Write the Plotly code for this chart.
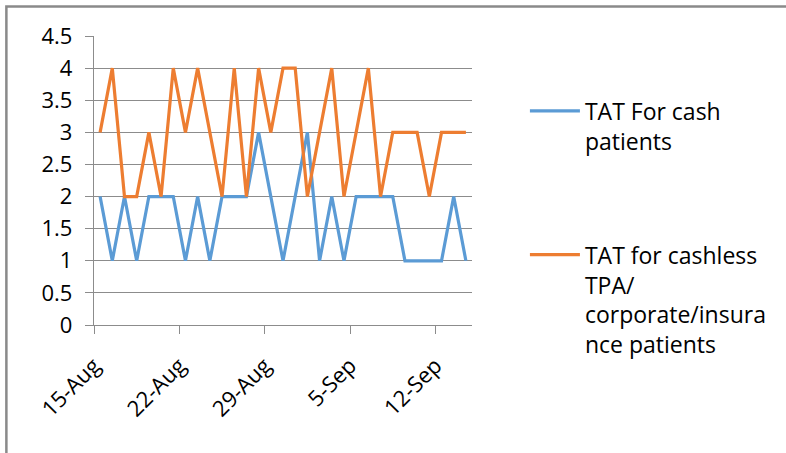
import pandas as pd
import plotly.graph_objects as go

# Daily turnaround time (TAT), 15 Aug - 14 Sep
dates = pd.date_range("2013-08-15", "2013-09-14", freq="D")
tat_cash = [2, 1, 2, 1, 2, 2, 2, 1, 2, 1, 2, 2, 2, 3, 2, 1,
            2, 3, 1, 2, 1, 2, 2, 2, 2, 1, 1, 1, 1, 2, 1]
tat_cashless = [3, 4, 2, 2, 3, 2, 4, 3, 4, 3, 2, 4, 2, 4, 3, 4,
                4, 2, 3, 4, 2, 3, 4, 2, 3, 3, 3, 2, 3, 3, 3]
series_names = [
    "TAT For cash<br>patients",
    "TAT for cashless<br>TPA/<br>corporate/insura<br>nce patients",
]
series_colors = ["#5B9BD5", "#ED7D31"]
y_ticks = [0, 0.5, 1, 1.5, 2, 2.5, 3, 3.5, 4, 4.5]
y_tick_text = ["0", "0.5", "1", "1.5", "2", "2.5", "3", "3.5", "4", "4.5"]

FONT = "Open Sans, Liberation Sans, sans-serif"
GRID = "#8c8c8c"
DAY_MS = 86400000

fig = go.Figure()
for i, (vals, name, color) in enumerate(zip([tat_cash, tat_cashless], series_names, series_colors)):
    fig.add_trace(go.Scatter(
        x=dates, y=vals, name=name, mode="lines",
        line=dict(color=color, width=3.2),
        xperiod=DAY_MS, xperiodalignment="middle",
        legendgroup=f"g{i}",
    ))

fig.update_layout(
    width=786, height=453,
    margin=dict(l=94, r=314, t=36, b=128),
    paper_bgcolor="white", plot_bgcolor="white",
    font=dict(family=FONT, size=22, color="#000000"),
    showlegend=True,
    legend=dict(
        x=1.14, y=0.815, xanchor="left", yanchor="top",
        font=dict(family=FONT, size=23, color="#000000"),
        tracegroupgap=81, valign="top",
        itemwidth=50, bgcolor="rgba(0,0,0,0)",
    ),
    shapes=[dict(
        type="rect", xref="paper", yref="paper",
        x0=-0.2318, x1=1.9, y0=-0.46, y1=1.1018,
        line=dict(color="#8a8a8a", width=2.5), layer="below",
    )],
)

fig.update_xaxes(
    type="date",
    range=[dates[0], dates[-1] + pd.Timedelta(days=1)],
    tick0=dates[0], dtick=7 * DAY_MS,
    tickformat="%-d-%b", tickangle=-45,
    showgrid=False, zeroline=False,
    showline=True, linecolor=GRID, linewidth=1.3,
    ticks="outside", ticklen=8, tickcolor=GRID, tickwidth=1.3,
    ticklabelstandoff=10,
    tickfont=dict(family=FONT, size=22, color="#000000"),
)
fig.update_yaxes(
    range=[0, 4.5], tickvals=y_ticks, ticktext=y_tick_text,
    showgrid=True, gridcolor=GRID, gridwidth=1.3,
    zeroline=False,
    showline=True, linecolor=GRID, linewidth=1.3,
    ticks="outside", ticklen=8, tickcolor=GRID, tickwidth=1.3,
    ticklabelstandoff=8,
    tickfont=dict(family=FONT, size=22, color="#000000"),
)

fig.write_html("out.html")
